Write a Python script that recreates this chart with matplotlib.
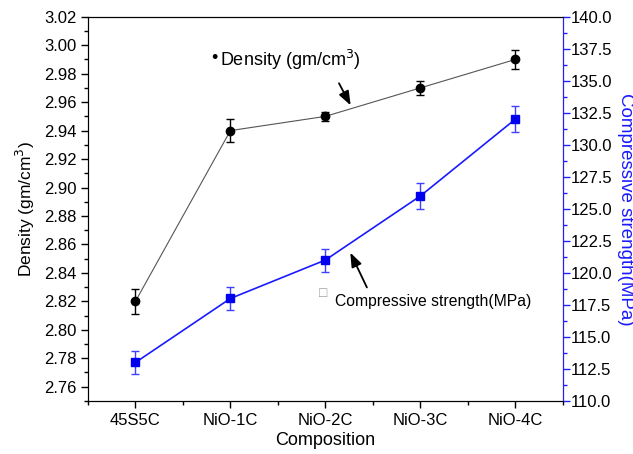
import numpy as np
import matplotlib.pyplot as plt
from matplotlib.ticker import MultipleLocator

plt.rcParams['font.family'] = ['Liberation Sans', 'DejaVu Sans']

samples = ['45S5C', 'NiO-1C', 'NiO-2C', 'NiO-3C', 'NiO-4C']
density = [2.82, 2.94, 2.95, 2.97, 2.99]
density_err = [0.009, 0.008, 0.003, 0.005, 0.007]
strength = [113.0, 118.0, 121.0, 126.0, 132.0]
strength_err = [0.9, 0.9, 0.9, 1.0, 1.0]

x = np.arange(len(samples))

fig = plt.figure(figsize=(6.33, 4.54), dpi=100)
ax = fig.add_axes([0.139, 0.117, 0.75, 0.846])

ax.errorbar(x, density, yerr=density_err, color='#555555', lw=0.8,
            marker='o', ms=6, mfc='k', mec='k', ecolor='k', elinewidth=1,
            capsize=3, capthick=1)
ax.set_xlim(-0.5, 4.5)
ax.set_ylim(2.75, 3.02)
ax.set_xticks(x)
ax.set_xticklabels(samples, fontsize=12)
ax.xaxis.set_minor_locator(MultipleLocator(0.5))
ax.yaxis.set_minor_locator(MultipleLocator(0.01))
yt = np.arange(2.76, 3.021, 0.02)
ax.set_yticks(yt)
ax.set_yticklabels(['%.2f' % v for v in yt], fontsize=12)
ax.set_xlabel('Composition', fontsize=13, labelpad=3)
ax.set_ylabel('Density (gm/cm$^3$)', fontsize=12.5, labelpad=5)
ax.tick_params(which='major', direction='out', length=5, width=1)
ax.tick_params(which='minor', direction='out', length=3, width=1)
ax.tick_params(axis='y', pad=3)

ax2 = ax.twinx()
ax2.errorbar(x, strength, yerr=strength_err, color='#1a1aff', lw=1.2,
             marker='s', ms=5.5, mfc='#0000ee', mec='#0000ee',
             ecolor='#4040ff', elinewidth=1, capsize=3, capthick=1)
ax2.set_ylim(110, 140)
ax2.yaxis.set_major_locator(MultipleLocator(2.5))
ax2.yaxis.set_minor_locator(MultipleLocator(1.25))
ax2.yaxis.set_major_formatter(plt.FormatStrFormatter('%.1f'))
ax2.tick_params(axis='y', which='major', direction='out', length=5, width=1,
                color='#2020ff', labelsize=12, pad=1)
ax2.tick_params(axis='y', which='minor', direction='out', length=3, width=1,
                color='#2020ff')
ax2.spines['right'].set_color('#2020ff')
ax2.set_ylabel('Compressive strength(MPa)', color='#1a1aff', fontsize=13.5,
               rotation=270, labelpad=15)

# labels with arrows pointing to each curve
arrow = dict(arrowstyle='-|>,head_width=0.32,head_length=0.85', color='k', lw=1.3)
ax.text(0.8, 2.991, '\u2022', fontsize=13, ha='left', va='center')
ax.text(0.89, 2.99, 'Density (gm/cm$^3$)', fontsize=13, ha='left', va='center')
ax.annotate('', xy=(2.28, 2.956), xytext=(2.13, 2.975), arrowprops=arrow)
ax.text(1.93, 2.826, '\u25a1', fontsize=10, color='#999999', ha='left', va='center')
ax.text(2.1, 2.82, 'Compressive strength(MPa)', fontsize=11.3, ha='left', va='center')
ax.annotate('', xy=(2.25, 2.856), xytext=(2.45, 2.828), arrowprops=arrow)

fig.savefig('out.png', dpi=100)
